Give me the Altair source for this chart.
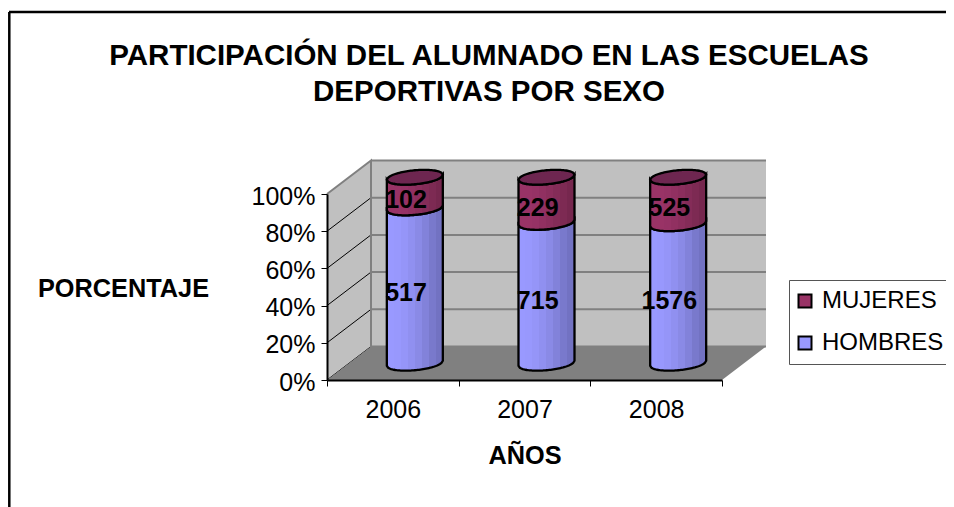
import altair as alt
import numpy as np
import pandas as pd

YEARS = ["2006", "2007", "2008"]
HOMBRES = [517, 715, 1576]
MUJERES = [102, 229, 525]
TICKS = [0, 20, 40, 60, 80, 100]
TITLE = ["PARTICIPACIÓN DEL ALUMNADO EN LAS ESCUELAS", "DEPORTIVAS POR SEXO"]

FONT = "Liberation Sans"
W, H = 395, 186
PX = W / 3            # px per x unit
PY = H / 100          # px per y percent
DX, DY = 44 / PX, 33.5 / PY   # depth of the 3D box
RX, RY, TILT = 28 / PX, 7 / PY, 2.5 / PY

xs = alt.Scale(domain=[0, 3], nice=False, zero=False)
ys = alt.Scale(domain=[0, 100], nice=False, zero=False)
X = lambda f="x": alt.X(f"{f}:Q", scale=xs, axis=None)
Y = lambda f="y": alt.Y(f"{f}:Q", scale=ys, axis=None)

# --- box walls
back = pd.DataFrame({"x": [DX, 3 + DX], "y": [DY, DY], "y2": [100 + DY, 100 + DY]})
left = pd.DataFrame({"x": [0, DX], "y": [0, DY], "y2": [100, 100 + DY]})
floor = pd.DataFrame({"x": [0, DX, 3, 3 + DX], "y": [0, DY, DY, DY], "y2": [0, 0, 0, DY]})


def wall(df, color):
    return alt.Chart(df).mark_area(color=color, opacity=1).encode(
        x=X(), y=Y(), y2=alt.Y2("y2:Q"))


grid = pd.DataFrame([{"t": t, "x": x, "y": t + DY} for t in TICKS[1:-1] for x in (DX, 3 + DX)])
diag = pd.DataFrame([{"t": t, "x": x, "y": t + (DY if x else 0)} for t in TICKS[:-1] for x in (0, DX)])
edge = pd.DataFrame({"x": [0, DX, DX, 3 + DX], "y": [100, 100 + DY, DY, DY]})
top_edge = pd.DataFrame({"x": [DX, 3 + DX], "y": [100 + DY, 100 + DY]})

grid_l = alt.Chart(grid).mark_line(color="#808080", strokeWidth=2).encode(x=X(), y=Y(), detail="t:N")
diag_l = alt.Chart(diag).mark_line(color="#000000", strokeWidth=1).encode(x=X(), y=Y(), detail="t:N")
edge_l = alt.Chart(edge).mark_line(color="#808080", strokeWidth=2, order=False).encode(x=X(), y=Y())
top_l = alt.Chart(top_edge).mark_line(color="#808080", strokeWidth=2).encode(x=X(), y=Y())

# --- cylinders
U = np.linspace(-1, 1, 41)
rows = {"HOMBRES": [], "MUJERES": [], "CAP": []}
labels = []
for i, (h, m) in enumerate(zip(HOMBRES, MUJERES)):
    tot = h + m
    ph = h / tot * 100
    cx = i + 0.5 + DX / 2
    for name, lo, hi in (("HOMBRES", 0, ph), ("MUJERES", ph, 100)):
        for u in U:
            arc = RY * np.sqrt(1 - u * u)
            rows[name].append({"i": i, "x": cx + RX * u,
                               "y": lo + DY / 2 + TILT * u - arc,
                               "y2": hi + DY / 2 + TILT * u - arc})
    for u in U:
        arc = RY * np.sqrt(1 - u * u)
        rows["CAP"].append({"i": i, "x": cx + RX * u,
                            "y": 100 + DY / 2 + TILT * u - arc,
                            "y2": 100 + DY / 2 + TILT * u + arc})
    labels.append({"x": i + 0.5 + DX * 0.3, "y": ph / 2 + DY * 0.3, "t": str(h)})
    labels.append({"x": i + 0.5 + DX * 0.3, "y": (ph + 100) / 2 + DY * 0.3, "t": str(m)})


def bands(cols):
    n = len(cols)
    stops = []
    for k, c in enumerate(cols):
        stops.append(alt.GradientStop(offset=k / n, color=c))
        stops.append(alt.GradientStop(offset=(k + 1) / n, color=c))
    return alt.LinearGradient(gradient="linear", x1=0, x2=1, y1=0, y2=0, stops=stops)


BLUE = ["#9999FF", "#9898FD", "#9595F8", "#9090F0", "#8A8AE6", "#8282DA", "#7979CC", "#7272C2"]
RED = ["#993366", "#993366", "#963265", "#913061", "#8B2E5D", "#842C58", "#7D2A53", "#76274E"]


def cyl(name, fill):
    return alt.Chart(pd.DataFrame(rows[name])).mark_area(
        color=fill, stroke="#000000", strokeWidth=2.3, opacity=1
    ).encode(x=X(), y=Y(), y2=alt.Y2("y2:Q"), detail="i:N")


text = alt.Chart(pd.DataFrame(labels)).mark_text(
    font=FONT, fontSize=25, fontWeight="bold", color="#000000", dy=1
).encode(x=X(), y=Y(), text="t:N")

# --- axes + legend carrier (invisible, band x scale with ticks on band edges)
carrier = pd.DataFrame({
    "year": YEARS * 2,
    "serie": ["HOMBRES"] * 3 + ["MUJERES"] * 3,
    "v": [100 * h / (h + m) for h, m in zip(HOMBRES, MUJERES)] + [100.0] * 3,
})
axes = alt.Chart(carrier).mark_square(opacity=0, size=1).encode(
    x=alt.X("year:N", sort=YEARS, scale=alt.Scale(paddingInner=0, paddingOuter=0),
            axis=alt.Axis(title="AÑOS", labelAngle=0, labelFont=FONT, labelFontSize=25,
                          labelColor="#000", labelPadding=11, tickBand="extent",
                          tickColor="#000", tickSize=6, domainColor="#000", domainWidth=2,
                          tickWidth=1, titleFont=FONT, titleFontSize=25.3, titleColor="#000",
                          titleFontWeight="bold", titleX=197.5, titleY=75, titleBaseline="middle",
                          titleAnchor="middle", zindex=1, grid=False)),
    y=alt.Y("v:Q", scale=ys,
            axis=alt.Axis(values=TICKS, labelExpr="datum.value + '%'", title="PORCENTAJE",
                          titleAngle=0, titleFont=FONT, titleFontSize=25.3, titleColor="#000",
                          titleFontWeight="bold", titleX=-204, titleY=94, titleBaseline="middle",
                          titleAlign="center", labelFont=FONT, labelFontSize=25, labelColor="#000",
                          labelPadding=6, labelOffset=2, tickColor="#000", tickSize=6, domainColor="#000",
                          domainWidth=2, zindex=1, grid=False)),
    color=alt.Color("serie:N",
                    scale=alt.Scale(domain=["MUJERES", "HOMBRES"], range=["#993366", "#9999FF"]),
                    legend=alt.Legend(title=None, orient="none", legendX=462, legendY=86,
                                      symbolType="square", symbolSize=169, symbolOpacity=1,
                                      symbolStrokeColor="#000", symbolStrokeWidth=2,
                                      symbolOffset=-5,
                                      labelFont=FONT, labelFontSize=24, labelColor="#000",
                                      labelOffset=5, rowPadding=18, padding=9,
                                      strokeColor="#555555", fillColor="#FFFFFF",
                                      labelLimit=200)),
)

# --- page frame
frame_l = alt.Chart(pd.DataFrame({"a": [0]})).mark_rule(color="#000", strokeWidth=2.5).encode(
    x=alt.value(-317.7), y=alt.value(-182), y2=alt.value(313))
frame_t = alt.Chart(pd.DataFrame({"a": [0]})).mark_rule(color="#000", strokeWidth=2.5).encode(
    y=alt.value(-182), x=alt.value(-318), x2=alt.value(627))

chart = alt.layer(
    axes,
    frame_l, frame_t,
    wall(back, "#C0C0C0"), wall(left, "#C0C0C0"),
    grid_l, diag_l, edge_l, top_l,
    wall(floor, "#808080"),
    cyl("HOMBRES", bands(BLUE)), cyl("MUJERES", bands(RED)), cyl("CAP", "#6E2650"),
    text,
).resolve_scale(x="independent").resolve_axis(y="independent").properties(
    width=W, height=H,
    autosize=alt.AutoSizeParams(type="none"),
    padding={"left": 319, "top": 186, "right": 224, "bottom": 135},
    background="#FFFFFF",
    title=alt.TitleParams(text=TITLE, font=FONT, fontSize=29.5, fontWeight="bold", color="#000",
                          anchor="middle", dx=-35.5, offset=0, dy=96.5, lineHeight=36),
).configure_view(stroke=None)

chart.save("out.html", embed_options={"renderer": "svg", "actions": False})
